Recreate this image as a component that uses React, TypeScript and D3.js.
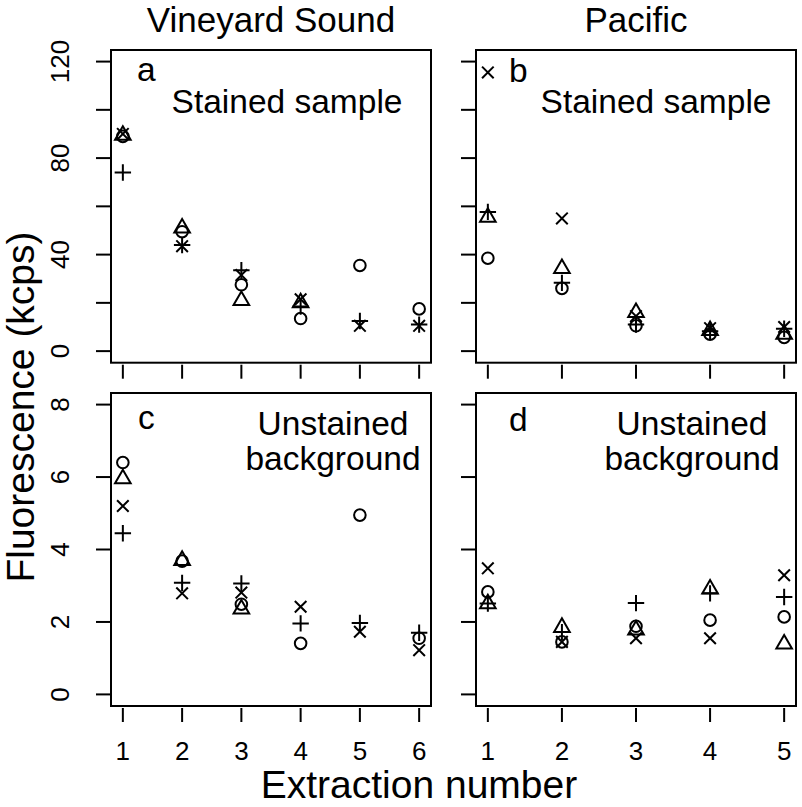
import React, { useEffect, useRef } from "react";
import * as d3 from "d3";

// column titles and panel texts
const columnTitles = ["Vineyard Sound", "Pacific"];
const panelLetters = ["a", "b", "c", "d"];
const stainedNote = ["Stained sample"];
const unstainedNote = ["Unstained", "background"];

const vsExtraction = [1, 2, 3, 4, 5, 6];
const pacExtraction = [1, 2, 3, 4, 5];

const stainedTicks = [0, 20, 40, 60, 80, 100, 120];
const stainedTickLabels = [0, 40, 80, 120];
const unstainedTicks = [0, 2, 4, 6, 8];

// a: Vineyard Sound, stained sample (kcps)
const vsStainedCircle = [89, 49.5, 27.5, 13.5, 35.5, 17.5];
const vsStainedTriangle = [89.5, 51, 21, 20];
const vsStainedPlus = [74, 44, 33.5, 18.5, 12.5, 11];
const vsStainedCross = [90, 43.5, 31.5, 21.5, 10.5, 10.5];

// b: Pacific, stained sample
const pacStainedCircle = [38.5, 26, 10.5, 7, 5.7];
const pacStainedTriangle = [55.5, 34.2, 16, 8.5, 7];
const pacStainedPlus = [57.7, 28.3, 11, 8.2, 9.3];
const pacStainedCross = [115.5, 55, 14.5, 9.5, 10];

// c: Vineyard Sound, unstained background
const vsBgCircle = [6.4, 3.68, 2.49, 1.41, 4.95, 1.55];
const vsBgTriangle = [5.95, 3.7, 2.36];
const vsBgPlus = [4.45, 3.08, 3.06, 1.96, 1.97, 1.7];
const vsBgCross = [5.2, 2.79, 2.81, 2.42, 1.73, 1.22];

// d: Pacific, unstained background
const pacBgCircle = [2.83, 1.45, 1.88, 2.05, 2.14];
const pacBgTriangle = [2.5, 1.85, 1.78, 2.91, 1.39];
const pacBgPlus = [2.51, 1.72, 2.52, 2.79, 2.69];
const pacBgCross = [3.48, 1.45, 1.55, 1.55, 3.29];

const R = 5.8;
const symbolPath = (shape: string) => {
  if (shape === "circle") return null;
  if (shape === "triangle")
    return `M0,${-1.555 * R}L${1.347 * R},${0.778 * R}L${-1.347 * R},${0.778 * R}Z`;
  if (shape === "plus") {
    const h = 1.414 * R;
    return `M${-h},0H${h}M0,${-h}V${h}`;
  }
  return `M${-R},${-R}L${R},${R}M${-R},${R}L${R},${-R}`;
};

const App = () => {
  const ref = useRef(null);

  useEffect(() => {
    const svg = d3.select(ref.current);
    svg.selectAll("*").remove();
    const font = "'Liberation Sans', Arial, Helvetica, sans-serif";

    const colLeft = [111, 476];
    const colRight = [431, 796];
    const rowTop = [50, 393];
    const rowBottom = [362.7, 706];

    const panels = [
      {
        col: 0, row: 0, ext: vsExtraction, ymax: 120, ticks: stainedTicks, labels: stainedTickLabels,
        series: { circle: vsStainedCircle, triangle: vsStainedTriangle, plus: vsStainedPlus, cross: vsStainedCross },
        note: stainedNote, noteX: 287, letterX: 137, letterY: 81,
      },
      {
        col: 1, row: 0, ext: pacExtraction, ymax: 120, ticks: stainedTicks, labels: [],
        series: { circle: pacStainedCircle, triangle: pacStainedTriangle, plus: pacStainedPlus, cross: pacStainedCross },
        note: stainedNote, noteX: 656, letterX: 509, letterY: 82,
      },
      {
        col: 0, row: 1, ext: vsExtraction, ymax: 8, ticks: unstainedTicks, labels: unstainedTicks,
        series: { circle: vsBgCircle, triangle: vsBgTriangle, plus: vsBgPlus, cross: vsBgCross },
        note: unstainedNote, noteX: 333, letterX: 138, letterY: 429,
      },
      {
        col: 1, row: 1, ext: pacExtraction, ymax: 8, ticks: unstainedTicks, labels: [],
        series: { circle: pacBgCircle, triangle: pacBgTriangle, plus: pacBgPlus, cross: pacBgCross },
        note: unstainedNote, noteX: 692, letterX: 509, letterY: 431,
      },
    ];

    panels.forEach((p, i) => {
      const n = p.ext.length;
      const padX = (n - 1) * 0.04;
      const x = d3.scaleLinear().domain([1 - padX, n + padX]).range([colLeft[p.col], colRight[p.col]]);
      const padY = p.ymax * 0.04;
      const y = d3.scaleLinear().domain([-padY, p.ymax + padY]).range([rowBottom[p.row], rowTop[p.row]]);
      const g = svg.append("g");

      // frame
      g.append("rect")
        .attr("x", colLeft[p.col]).attr("y", rowTop[p.row])
        .attr("width", colRight[p.col] - colLeft[p.col])
        .attr("height", rowBottom[p.row] - rowTop[p.row])
        .attr("fill", "none").attr("stroke", "#000").attr("stroke-width", 2);

      // y ticks
      g.selectAll(".yt").data(p.ticks).enter().append("line")
        .attr("x1", colLeft[p.col] - 15).attr("x2", colLeft[p.col])
        .attr("y1", (d) => y(d)).attr("y2", (d) => y(d))
        .attr("stroke", "#000").attr("stroke-width", 2);
      g.selectAll(".yl").data(p.labels).enter().append("text")
        .attr("transform", (d) => `translate(${colLeft[p.col] - 42},${y(d)}) rotate(-90)`)
        .attr("text-anchor", "middle")
        .attr("font-family", font).attr("font-size", 26)
        .text((d) => d);

      // x ticks
      g.selectAll(".xt").data(p.ext).enter().append("line")
        .attr("x1", (d) => x(d)).attr("x2", (d) => x(d))
        .attr("y1", rowBottom[p.row] + 2).attr("y2", rowBottom[p.row] + 16)
        .attr("stroke", "#000").attr("stroke-width", 2);
      if (p.row === 1) {
        g.selectAll(".xl").data(p.ext).enter().append("text")
          .attr("x", (d) => x(d)).attr("y", 760)
          .attr("text-anchor", "middle")
          .attr("font-family", font).attr("font-size", 26)
          .text((d) => d);
      }

      // points
      Object.entries(p.series).forEach(([shape, vals]) => {
        const pts = vals.map((v, j) => ({ e: p.ext[j], v }));
        if (shape === "circle") {
          g.selectAll(null).data(pts).enter().append("circle")
            .attr("cx", (d) => x(d.e)).attr("cy", (d) => y(d.v)).attr("r", R)
            .attr("fill", "none").attr("stroke", "#000").attr("stroke-width", 2);
        } else {
          g.selectAll(null).data(pts).enter().append("path")
            .attr("transform", (d) => `translate(${x(d.e)},${y(d.v)})`)
            .attr("d", symbolPath(shape))
            .attr("fill", "none").attr("stroke", "#000").attr("stroke-width", 2);
        }
      });

      // panel letter and note
      g.append("text").attr("x", p.letterX).attr("y", p.letterY)
        .attr("font-family", font).attr("font-size", 33.5).text(panelLetters[i]);
      p.note.forEach((t, k) => {
        g.append("text")
          .attr("x", p.noteX).attr("y", (p.row === 0 ? 113 : 435) + k * 35)
          .attr("text-anchor", "middle")
          .attr("font-family", font).attr("font-size", 33.5).text(t);
      });
    });

    // column titles
    columnTitles.forEach((t, c) => {
      svg.append("text")
        .attr("x", (colLeft[c] + colRight[c]) / 2).attr("y", 32)
        .attr("text-anchor", "middle")
        .attr("font-family", font).attr("font-size", 35).text(t);
    });

    // axis titles
    svg.append("text")
      .attr("x", 419).attr("y", 798)
      .attr("text-anchor", "middle")
      .attr("font-family", font).attr("font-size", 39).text("Extraction number");
    svg.append("text")
      .attr("transform", "translate(34,407) rotate(-90)")
      .attr("text-anchor", "middle")
      .attr("font-family", font).attr("font-size", 39).text("Fluorescence (kcps)");
  }, []);

  return (
    <svg
      ref={ref}
      width={802}
      height={807}
      style={{ position: "absolute", left: 0, top: 0, background: "#fff" }}
    />
  );
};

export default App;
